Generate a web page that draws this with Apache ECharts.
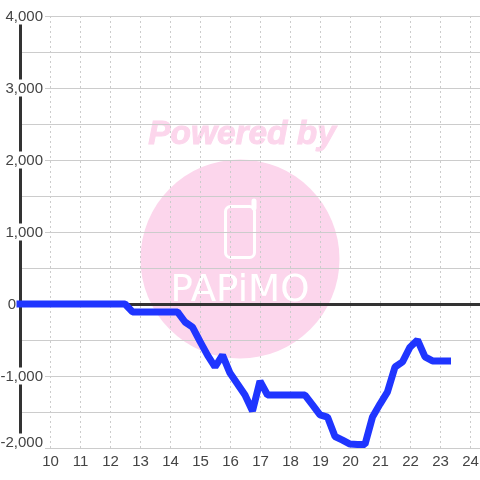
<!DOCTYPE html>
<html><head><meta charset="utf-8">
<style>html,body{margin:0;padding:0;background:#fff}#c{width:480px;height:480px}</style>
<script src="https://cdn.jsdelivr.net/npm/echarts@6/dist/echarts.min.js"></script>
</head><body><div id="c"></div>
<script>
var hours = [9,9.25,9.5,9.75,10,10.25,10.5,10.75,11,11.25,11.5,11.75,12,12.25,12.5,12.75,13,13.25,13.5,13.75,14,14.25,14.5,14.75,15,15.25,15.5,15.75,16,16.25,16.5,16.75,17,17.25,17.5,17.75,18,18.25,18.5,18.75,19,19.25,19.5,19.75,20,20.25,20.5,20.75,21,21.25,21.5,21.75,22,22.25,22.5,22.75,23,23.25];
var values = [0,0,0,0,0,0,0,0,0,0,0,0,0,0,0,-110,-110,-110,-110,-110,-110,-110,-250,-320,-520,-710,-875,-710,-960,-1110,-1264,-1486,-1070,-1264,-1264,-1264,-1264,-1264,-1264,-1400,-1540,-1570,-1840,-1890,-1945,-1950,-1950,-1570,-1390,-1220,-875,-805,-600,-500,-735,-790,-790,-790];
var yTicks = [-2000,-1000,0,1000,2000,3000,4000];
var xMin = 9, xMax = 9 + 46/3, yMin = -2000, yMax = 4000;
var labelColor = '#444', gridColor = '#ccc', axisColor = '#333', lineColor = '#1f35ff';
var pink = '#fcd6ec';

var chart = echarts.init(document.getElementById('c'), null, {renderer:'canvas'});
chart.setOption({
  animation:false,
  backgroundColor:'#fff',
  grid:{left:20,right:0,top:16,bottom:32,containLabel:false,outerBoundsMode:'none'},
  graphic:{elements:[
    {type:'circle',z:-10,silent:true,shape:{cx:240,cy:259,r:99.5},style:{fill:pink}},
    {type:'text',z:-10,silent:true,x:242,y:135,style:{text:'Powered by',fill:pink,stroke:pink,lineWidth:1,font:'italic bold 33.4px "Liberation Sans"',textAlign:'center',textVerticalAlign:'middle'}},
    {type:'rect',z:-9,silent:true,shape:{x:225.5,y:206.5,width:29,height:51,r:5},style:{fill:'none',stroke:'#fff',lineWidth:3}},
    {type:'line',z:-9,silent:true,shape:{x1:254,y1:208,x2:254,y2:201},style:{stroke:'#fff',lineWidth:5,lineCap:'round'}},
    {type:'text',z:-9,silent:true,x:240,y:291,scaleX:0.93,scaleY:0.95,style:{text:'PAPiMO',fill:'#fff',font:'40px "DejaVu Sans"',textAlign:'center',textVerticalAlign:'middle'}}
  ]},
  xAxis:[{
    type:'value',min:xMin,max:xMax,interval:1,position:'bottom',
    axisLine:{show:false,onZero:false},axisTick:{show:false},
    axisLabel:{color:labelColor,fontSize:15,fontFamily:'Liberation Sans',margin:6,padding:[0,0,0,1],showMinLabel:false,
      formatter:function(v){return (v>xMin&&Number.isInteger(v))?String(v):'';}},
    splitLine:{show:true,showMinLine:false,showMaxLine:false,lineStyle:{color:gridColor,type:[2,3],width:1}}
  },{
    type:'value',min:xMin,max:xMax,interval:1,position:'bottom',
    axisLine:{show:true,onZero:true,lineStyle:{color:axisColor,width:3,cap:'butt'}},
    axisTick:{show:false},axisLabel:{show:false},splitLine:{show:false}
  }],
  yAxis:{
    type:'value',min:yMin,max:yMax,interval:500,
    axisLine:{show:true,onZero:false,lineStyle:{color:axisColor,width:3,cap:'butt'}},axisTick:{show:false},
    axisLabel:{inside:true,margin:25,align:'right',verticalAlignMinLabel:'bottom',hideOverlap:false,showMinLabel:true,showMaxLabel:true,
      color:labelColor,fontSize:15,fontFamily:'Liberation Sans',
      rich:{
        a:{color:labelColor,fontSize:15,fontFamily:'Liberation Sans',backgroundColor:'#fff',padding:[2,2,0,0],lineHeight:12},
        z:{color:labelColor,fontSize:15,fontFamily:'Liberation Sans',padding:[2,29,0,0],lineHeight:12}
      },
      formatter:function(v){
        if(yTicks.indexOf(v)<0) return '';
        return v===0?'{z|0}':'{a|'+v.toLocaleString('en-US')+'}';
      }},
    splitLine:{show:true,lineStyle:{color:gridColor,width:1}}
  },
  series:[{
    type:'line',xAxisIndex:0,yAxisIndex:0,clip:false,showSymbol:false,symbol:'none',
    data:hours.map(function(h,i){return [h,values[i]];}),
    lineStyle:{color:lineColor,width:7,cap:'square',join:'bevel'}
  }]
});
</script></body></html>
